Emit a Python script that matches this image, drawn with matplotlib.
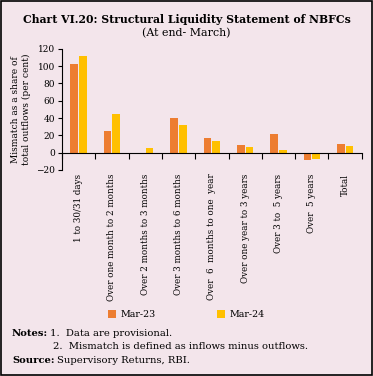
import numpy as np
import matplotlib.pyplot as plt
from matplotlib.patches import Rectangle

categorias = ["1 to 30/31 days", "Over one month to 2 months", "Over 2 months to 3 months",
              "Over 3 months to 6 months", "Over  6  months to one  year", "Over one year to 3 years",
              "Over 3 to  5 years", "Over  5 years", "Total"]
mar23 = [103, 25, 0, 40, 17, 9, 21, -8.5, 9.5]
mar24 = [112, 45, 5.5, 32, 14, 6, 2.5, -7.5, 7.5]
series = ["Mar-23", "Mar-24"]
colores = ["#ED7D31", "#FFC000"]
yticks = [-20, 0, 20, 40, 60, 80, 100, 120]

FONDO = "#F3E5EB"
plt.rcParams["font.family"] = ["DejaVu Serif"]

fig = plt.figure(figsize=(3.73, 3.76), dpi=100, facecolor=FONDO)
fig.patches.append(Rectangle((0.003, 0.003), 0.994, 0.994, transform=fig.transFigure,
                             fill=False, edgecolor="black", linewidth=1.2))
ax = fig.add_axes([0.166, 0.548, 0.804, 0.322])
ax.set_facecolor(FONDO)

x = np.arange(len(categorias))
w = 0.23
ax.bar(x - 0.13, mar23, w, color=colores[0], label=series[0])
ax.bar(x + 0.13, mar24, w, color=colores[1], label=series[1])

ax.set_xlim(-0.5, len(categorias) - 0.5)
ax.set_ylim(-20, 120)
ax.set_yticks(yticks)
ax.tick_params(axis="y", labelsize=6.5, length=3, width=0.8, pad=2)
for s in ["top", "right"]:
    ax.spines[s].set_visible(False)
ax.spines["bottom"].set_position(("data", 0))
ax.set_xticks(np.arange(len(categorias) + 1) - 0.5)
ax.set_xticklabels([])
ax.tick_params(axis="x", length=4, width=0.8, direction="out")

for i, c in enumerate(categorias):
    ax.text(i, -0.03, c, transform=ax.get_xaxis_transform(), rotation=90,
            ha="center", va="top", fontsize=6.3)

ax.set_ylabel("Mismatch as a share of\ntotal outflows (per cent)", fontsize=6.5, labelpad=4)

fig.text(0.5, 0.948, "Chart VI.20: Structural Liquidity Statement of NBFCs",
         ha="center", va="center", fontsize=7.85, fontweight="bold")
fig.text(0.5, 0.912, "(At end- March)", ha="center", va="center", fontsize=7.9)

fig.legend(loc="center", bbox_to_anchor=(0.5, 0.163), ncol=2, frameon=False,
           fontsize=6.8, handlelength=0.8, handleheight=0.8, columnspacing=6.5,
           handletextpad=0.5)

fs = 7.2
fig.text(0.032, 0.114, "Notes:", fontsize=fs, fontweight="bold", va="center")
fig.text(0.134, 0.114, "1.  Data are provisional.", fontsize=fs, va="center")
fig.text(0.142, 0.078, "2.  Mismatch is defined as inflows minus outflows.", fontsize=fs, va="center")
fig.text(0.032, 0.040, "Source:", fontsize=fs, fontweight="bold", va="center")
fig.text(0.153, 0.040, "Supervisory Returns, RBI.", fontsize=fs, va="center")

fig.savefig("out.png", dpi=100, facecolor=FONDO)
